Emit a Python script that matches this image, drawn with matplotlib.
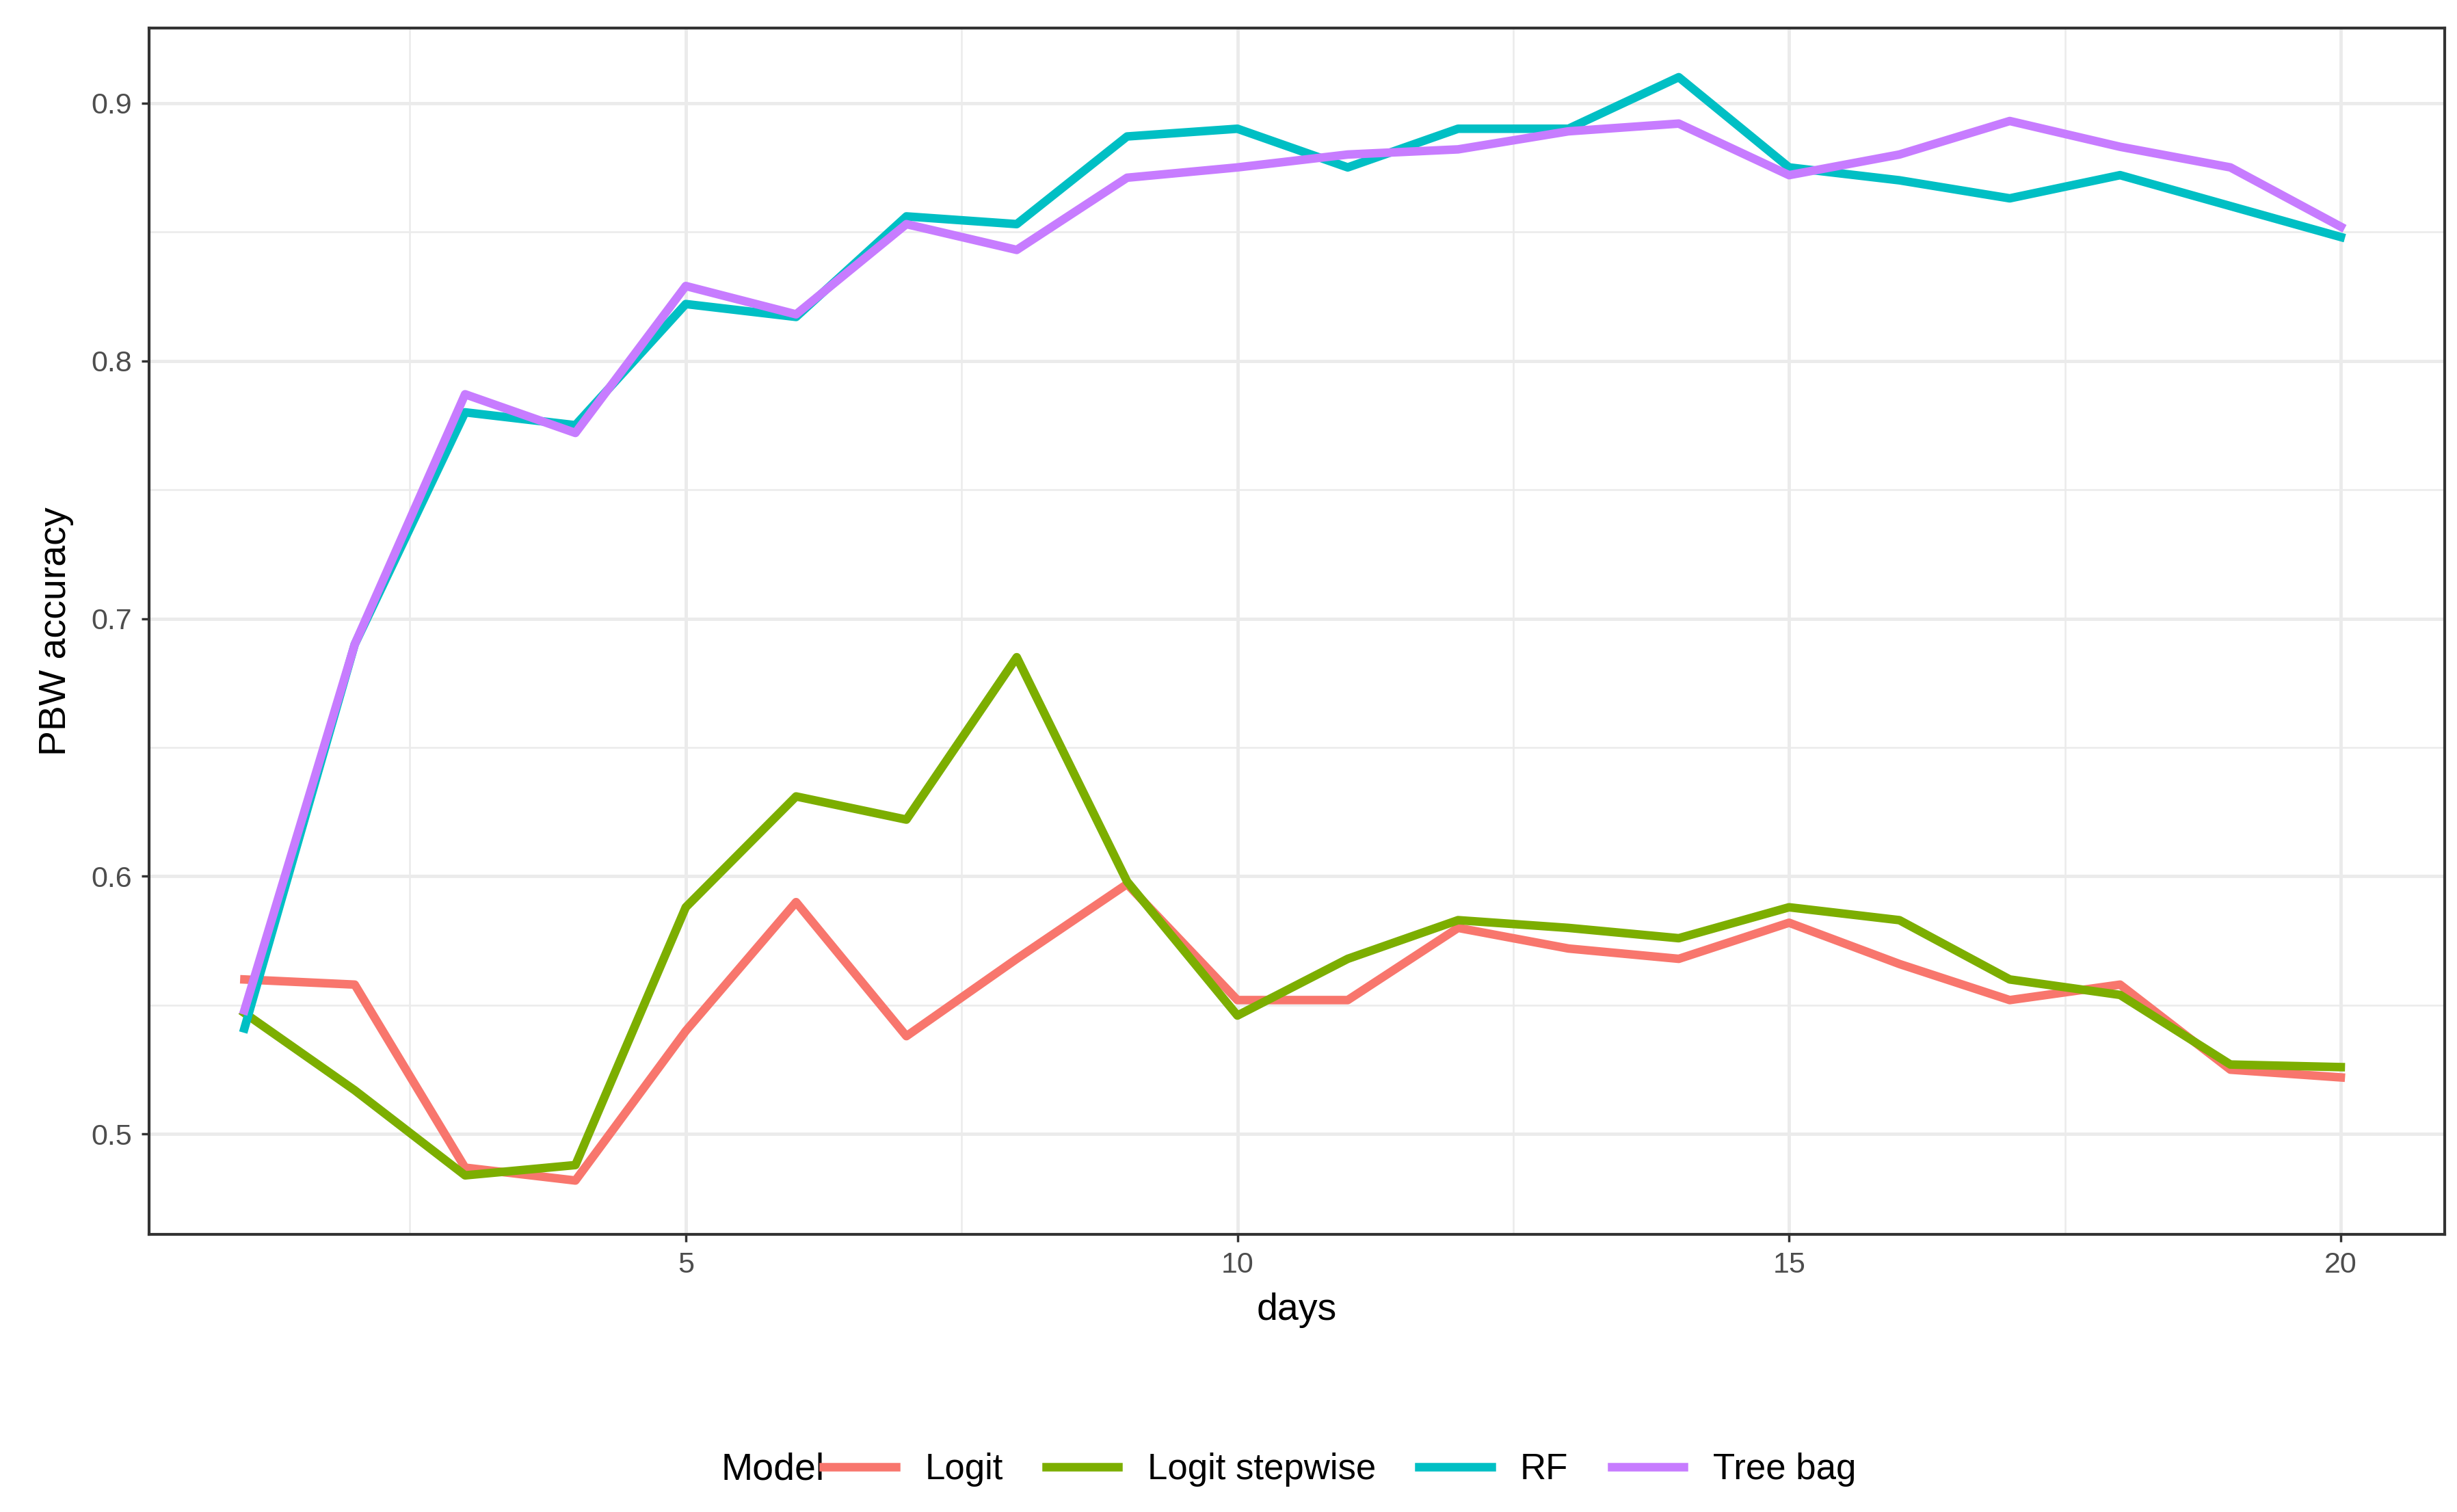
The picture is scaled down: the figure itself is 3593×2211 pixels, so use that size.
import matplotlib.pyplot as plt
from matplotlib.ticker import MultipleLocator

plt.rcParams["font.family"] = ["Liberation Sans", "DejaVu Sans"]

days = list(range(1, 21))
logit = [0.560, 0.558, 0.487, 0.482, 0.540, 0.590, 0.538, 0.568, 0.597, 0.552,
         0.552, 0.580, 0.572, 0.568, 0.582, 0.566, 0.552, 0.558, 0.525, 0.522]
logit_step = [0.547, 0.517, 0.484, 0.488, 0.588, 0.631, 0.622, 0.685, 0.598, 0.546,
              0.568, 0.583, 0.580, 0.576, 0.588, 0.583, 0.560, 0.554, 0.527, 0.526]
rf = [0.541, 0.690, 0.780, 0.775, 0.822, 0.817, 0.856, 0.853, 0.887, 0.890,
      0.875, 0.890, 0.890, 0.910, 0.875, 0.870, 0.863, 0.872, 0.860, 0.848]
treebag = [0.548, 0.690, 0.787, 0.772, 0.829, 0.818, 0.853, 0.843, 0.871, 0.875,
           0.880, 0.882, 0.889, 0.892, 0.872, 0.880, 0.893, 0.883, 0.875, 0.852]

series = [("Logit", logit, "#F8766D"), ("Logit stepwise", logit_step, "#7CAE00"),
          ("RF", rf, "#00BFC4"), ("Tree bag", treebag, "#C77CFF")]

fig = plt.figure(figsize=(35.93, 22.11), dpi=100)
ax = fig.add_axes([95 / 1568, 1 - 788 / 965, (1560 - 95) / 1568, (788 - 18) / 965])

for name, vals, col in series:
    ax.plot(days, vals, color=col, lw=9, label=name)

ax.set_xlim(0.134, 20.94)
ax.set_ylim(0.461, 0.929)
ax.xaxis.set_minor_locator(MultipleLocator(2.5))
ax.yaxis.set_minor_locator(MultipleLocator(0.05))
ax.set_xticks([5, 10, 15, 20])
ax.set_yticks([0.5, 0.6, 0.7, 0.8, 0.9])
ax.set_yticklabels(["0.5", "0.6", "0.7", "0.8", "0.9"])
ax.grid(which="major", color="#EBEBEB", lw=3.5)
ax.grid(which="minor", color="#EBEBEB", lw=1.8)
ax.set_axisbelow(True)
ax.tick_params(which="minor", length=0)
ax.tick_params(which="major", labelsize=31, labelcolor="#4D4D4D", color="#333333",
               length=8, width=2.5, pad=10)
for s in ax.spines.values():
    s.set_color("#333333")
    s.set_linewidth(3)
ax.set_xlabel("days", fontsize=40, labelpad=14)
ax.set_ylabel("PBW accuracy", fontsize=40, labelpad=18)

fig.text(460 / 1568, 1 - 938 / 965, "Model", fontsize=40, va="center", ha="left")
fig.legend(loc="center", bbox_to_anchor=(855 / 1568, 1 - 938 / 965), ncol=4, frameon=False,
           fontsize=38, handlelength=2.0, handletextpad=0.8, columnspacing=1.2)

fig.savefig("out.png", dpi=100)
